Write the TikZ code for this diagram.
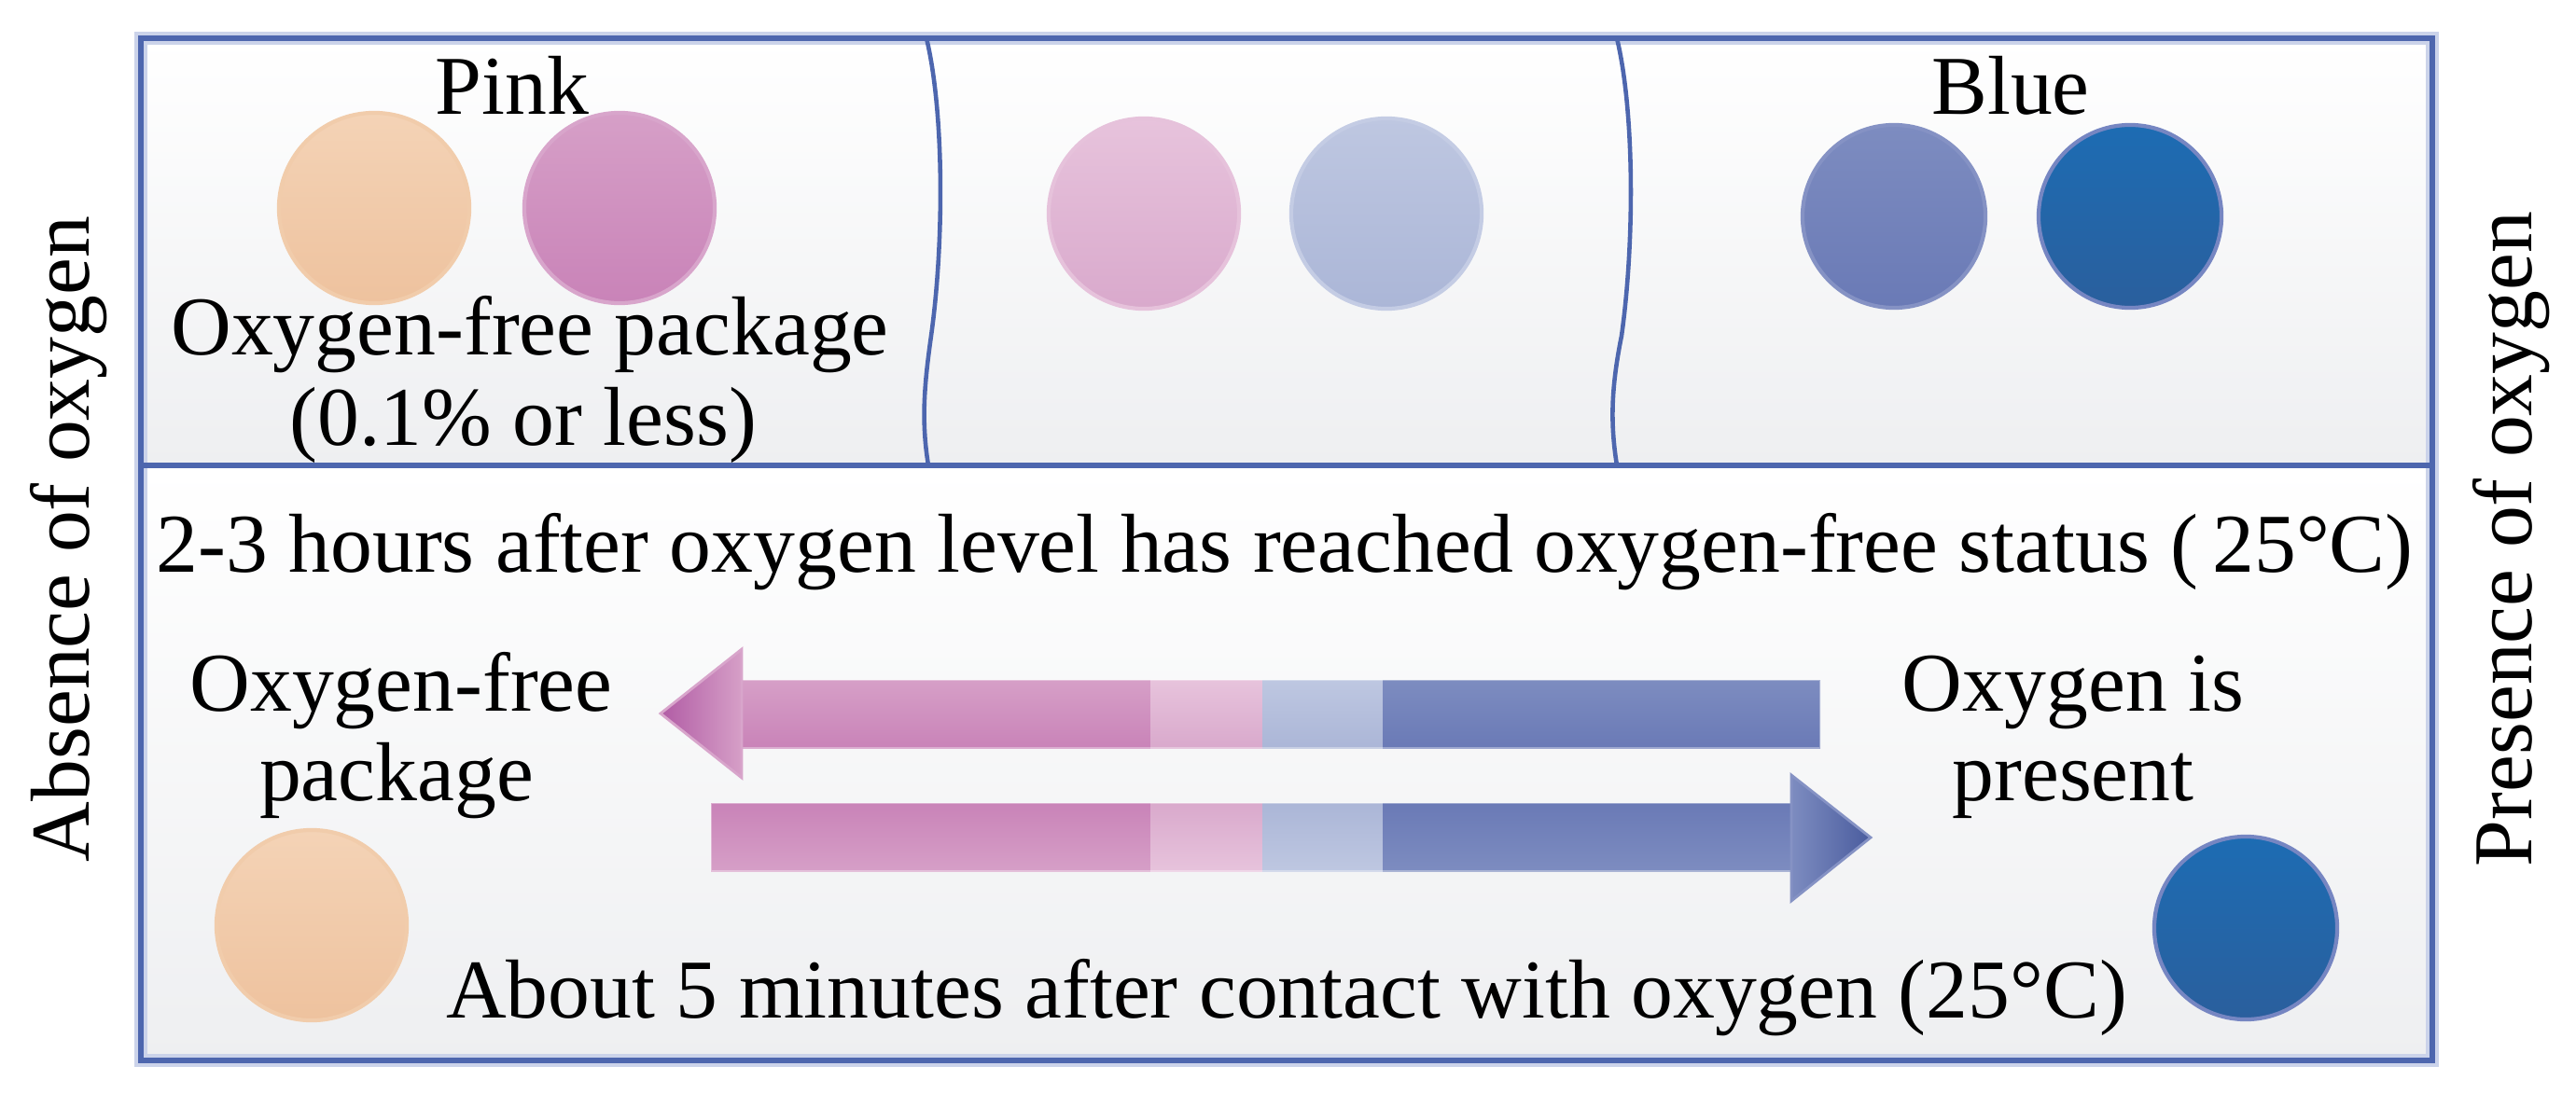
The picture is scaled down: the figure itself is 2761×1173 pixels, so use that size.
\documentclass[tikz,border=0pt]{standalone}
\usepackage{fontspec}
\setmainfont{Liberation Serif}
\definecolor{frameblue}{HTML}{4D66AE}
\definecolor{halo}{HTML}{CBD3EA}
\definecolor{bgbot}{HTML}{EEEFF1}
\definecolor{orT}{HTML}{F4D3B6}\definecolor{orB}{HTML}{EEC29E}\definecolor{orR}{HTML}{F1CCAB}
\definecolor{pkT}{HTML}{D69FC7}\definecolor{pkB}{HTML}{C983B8}\definecolor{pkR}{HTML}{D8A5CB}
\definecolor{lpT}{HTML}{E7C3DC}\definecolor{lpB}{HTML}{D9A9CC}\definecolor{lpR}{HTML}{E6C2DB}
\definecolor{lbT}{HTML}{BEC7E1}\definecolor{lbB}{HTML}{ABB6D7}\definecolor{lbR}{HTML}{C4CCE4}
\definecolor{mbT}{HTML}{7D8CC0}\definecolor{mbB}{HTML}{6A7AB6}\definecolor{mbR}{HTML}{8592C4}
\definecolor{dbT}{HTML}{1D6CB3}\definecolor{dbB}{HTML}{2A5F9D}\definecolor{dbR}{HTML}{7686C2}
\definecolor{pkHead}{HTML}{B15CA5}\definecolor{bhHead}{HTML}{4A5C9E}
\begin{document}
\begin{tikzpicture}[x=0.01cm,y=-0.01cm,
  font=\fontsize{25.5}{30}\selectfont,
  lbl/.style={inner sep=0pt, anchor=base},
  vlbl/.style={inner sep=0pt, anchor=base, rotate=90},
  dot/.style={circle, minimum size=2.04cm, inner sep=0pt, line width=1.2pt},
  framestyle/.style={draw=frameblue, line width=1.7pt},
  halostyle/.style={draw=halo, line width=3.8pt},
  divider/.style={draw=frameblue, line width=1.3pt},
  seg/.style={draw=white, draw opacity=0.35, line width=0.6pt},
]
\useasboundingbox (0,0) rectangle (2761,1173);
% panel backgrounds
\shade[top color=white, bottom color=bgbot] (151,41) rectangle (2607,499);
\shade[top color=white, bottom color=bgbot] (151,499) rectangle (2607,1137);
% frame
\draw[halostyle] (151,41) rectangle (2607,1137);
\draw[framestyle] (151,41) rectangle (2607,1137);
\draw[framestyle] (151,499) -- (2607,499);
% curved dividers
\draw[divider] (993,41) .. controls (1012,120) and (1012,260) .. (998,360) .. controls (991,410) and (987,450) .. (995,499);
\draw[divider] (1733,41) .. controls (1752,120) and (1752,260) .. (1738,360) .. controls (1728,410) and (1725,450) .. (1733,499);
% top row circles
\node[dot, top color=orT, bottom color=orB, draw=orR] (c1) at (401,223) {};
\node[dot, top color=pkT, bottom color=pkB, draw=pkR] (c2) at (664,223) {};
\node[dot, top color=lpT, bottom color=lpB, draw=lpR] (c3) at (1226,229) {};
\node[dot, top color=lbT, bottom color=lbB, draw=lbR] (c4) at (1486,229) {};
\node[dot, minimum size=1.96cm, top color=mbT, bottom color=mbB, draw=mbR] (c5) at (2030,232) {};
\node[dot, minimum size=1.96cm, top color=dbT, bottom color=dbB, draw=dbR] (c6) at (2283,232) {};
% bottom circles
\node[dot, top color=orT, bottom color=orB, draw=orR] (c7) at (334,992) {};
\node[dot, minimum size=1.96cm, top color=dbT, bottom color=dbB, draw=dbR] (c8) at (2407,995) {};
% upper arrow (pointing left)
\shade[top color=pkT, bottom color=pkB] (793,729) rectangle (1233,802);
\shade[top color=lpT, bottom color=lpB] (1233,729) rectangle (1353,802);
\shade[top color=lbT, bottom color=lbB] (1353,729) rectangle (1482,802);
\shade[top color=mbT, bottom color=mbB] (1482,729) rectangle (1951,802);
\draw[seg] (793,729) rectangle (1951,802);
\shade[left color=pkHead, right color=pkT] (795,696) -- (708,765) -- (795,834) -- cycle;
\draw[draw=pkR, line width=0.8pt] (795,696) -- (708,765) -- (795,834) -- cycle;
% lower arrow (pointing right)
\shade[top color=pkB, bottom color=pkT] (762,861) rectangle (1233,934);
\shade[top color=lpB, bottom color=lpT] (1233,861) rectangle (1353,934);
\shade[top color=lbB, bottom color=lbT] (1353,861) rectangle (1482,934);
\shade[top color=mbB, bottom color=mbT] (1482,861) rectangle (1922,934);
\draw[seg] (762,861) rectangle (1922,934);
\shade[left color=mbT, right color=bhHead] (1920,831) -- (2005,898) -- (1920,966) -- cycle;
\draw[draw=mbR, line width=0.8pt] (1920,831) -- (2005,898) -- (1920,966) -- cycle;
% texts
\node[lbl] (pink) at (549,123) {Pink};
\node[lbl] (blue) at (2155,123) {Blue};
\node[lbl] (ofp1) at (568,380) {Oxygen-free package};
\node[lbl] (ofp2) at (561,477) {(0.1\% or less)};
\node[lbl] (hours) at (1377,613) {2-3 hours after oxygen level has reached oxygen-free status (\,25°C)};
\node[lbl] (ofa) at (430,762) {Oxygen-free};
\node[lbl] (ofb) at (425,858) {package};
\node[lbl] (opa) at (2222,762) {Oxygen is};
\node[lbl] (opb) at (2222,858) {present};
\node[lbl] (mins) at (1379,1091) {About 5 minutes after contact with oxygen (25°C)};
\node[vlbl] (absence) at (95,578) {Absence of oxygen};
\node[vlbl] (presence) at (2713,578) {Presence of oxygen};
\end{tikzpicture}
\end{document}
